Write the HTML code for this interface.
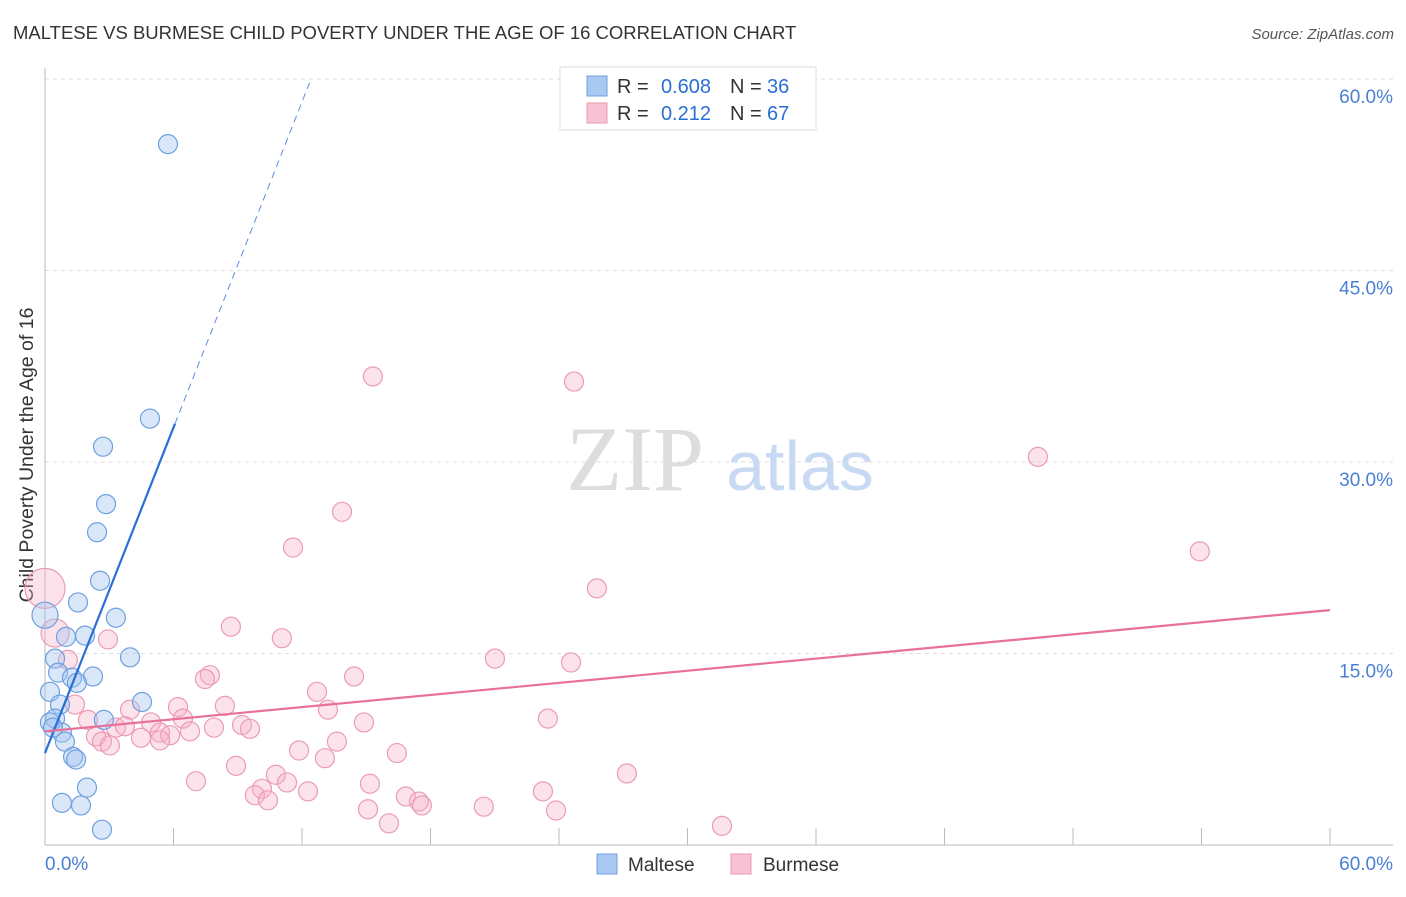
<!DOCTYPE html>
<html><head><meta charset="utf-8"><style>
body{margin:0;background:#fff;}
svg{font-family:"Liberation Sans",sans-serif;}
</style></head><body>
<svg id="chart" width="1406" height="892" xmlns="http://www.w3.org/2000/svg">
<text x="13" y="39" font-size="18.5" fill="#333">MALTESE VS BURMESE CHILD POVERTY UNDER THE AGE OF 16 CORRELATION CHART</text>
<text x="1394" y="39" font-size="15" fill="#555" font-style="italic" text-anchor="end">Source: ZipAtlas.com</text>
<g><text x="635" y="490" font-size="92" font-family="Liberation Serif,serif" fill="#ddd" text-anchor="middle">ZIP</text><text x="800" y="490" font-size="70" fill="#c8daf3" text-anchor="middle">atlas</text></g>
<text transform="translate(33,455) rotate(-90)" font-size="19.5" fill="#333" text-anchor="middle">Child Poverty Under the Age of 16</text>
<g id="grid"></g><g id="points"></g><g id="lines"></g>
<g>
<rect x="560" y="67" width="256" height="63" fill="#fff" stroke="#ddd"/>
<rect x="587" y="76" width="20" height="20" fill="#a9c9f2" stroke="#6fa0e0"/>
<rect x="587" y="103" width="20" height="20" fill="#f8c3d3" stroke="#e99ab3"/>
<text x="617" y="93" font-size="20" fill="#333">R = </text><text x="711" y="93" font-size="20" fill="#2a6fd6" text-anchor="end">0.608</text>
<text x="730" y="93" font-size="20" fill="#333">N = </text><text x="767" y="93" font-size="20" fill="#2a6fd6">36</text>
<text x="617" y="120" font-size="20" fill="#333">R = </text><text x="711" y="120" font-size="20" fill="#2a6fd6" text-anchor="end">0.212</text>
<text x="730" y="120" font-size="20" fill="#333">N = </text><text x="767" y="120" font-size="20" fill="#2a6fd6">67</text>
</g>
<g>
<rect x="597" y="854" width="20" height="20" fill="#a9c9f2" stroke="#6fa0e0"/>
<text x="628" y="871" font-size="19" fill="#333">Maltese</text>
<rect x="731" y="854" width="20" height="20" fill="#f8c3d3" stroke="#e99ab3"/>
<text x="763" y="871" font-size="19" fill="#333">Burmese</text>
</g>
</svg>
<script>
const xTicks=[0,6,12,18,24,30,36,42,48,54,60];
const yTicks=[15,30,45,60];
const malteseX=[5.74,4.90,2.71,2.85,2.43,2.57,1.54,3.31,0,1.87,0.98,3.97,0.47,0.61,1.26,2.24,1.49,0.23,4.53,0.70,0.47,2.75,0.23,0.79,0.93,1.31,1.45,1.96,0.79,1.68,2.66,0.37];
const malteseY=[54.9,33.4,31.2,26.7,24.5,20.7,19.0,17.8,18.0,16.4,16.3,14.7,14.6,13.5,13.1,13.2,12.7,12.0,11.2,11.0,9.9,9.8,9.6,8.8,8.1,6.9,6.7,4.5,3.3,3.1,1.2,9.2];
const burmeseX=[15.31,24.70,46.36,13.87,11.58,53.92,25.77,0,8.68,11.06,0.47,2.94,21.01,24.56,1.07,7.70,7.47,14.43,12.70,6.21,8.40,1.40,6.44,13.21,23.48,2.01,14.89,4.95,9.20,9.57,3.97,3.31,6.77,7.89,5.37,3.73,4.48,2.38,2.66,11.86,13.63,16.43,13.07,8.92,27.17,10.78,7.05,15.17,11.30,10.13,12.28,9.80,10.41,23.25,16.85,17.46,17.60,20.49,23.86,15.08,16.06,31.61,5.84,3.03,5.37];
const burmeseY=[36.7,36.3,30.4,26.1,23.3,23.0,20.1,20.1,17.1,16.2,16.6,16.1,14.6,14.3,14.5,13.3,13.0,13.2,12.0,10.8,10.9,11.0,9.9,10.6,9.9,9.8,9.6,9.6,9.4,9.1,10.6,9.2,8.9,9.2,8.8,9.3,8.4,8.5,8.1,7.4,8.1,7.2,6.8,6.2,5.6,5.5,5.0,4.8,4.9,4.4,4.2,3.9,3.5,4.2,3.8,3.4,3.1,3.0,2.7,2.8,1.7,1.5,8.6,7.8,8.2];
const malteseTrend=[7.2,33.0];const malteseTrendX=[0,6.07,12.35];
const burmeseTrend=[8.9,18.4];
const X0=45,X1=1330,Y0=845,Y60=79;
const sx=v=>X0+(X1-X0)*v/60, sy=v=>Y0-(Y0-Y60)*v/60;
const NS='http://www.w3.org/2000/svg';
function mk(t,a,p){const e=document.createElementNS(NS,t);for(const k in a)e.setAttribute(k,a[k]);p.appendChild(e);return e;}
const grid=document.getElementById('grid');
yTicks.forEach(t=>{
 const l=mk('line',{x1:X0,x2:1393,y1:sy(t),y2:sy(t),stroke:'#ddd','stroke-dasharray':'4,4'},grid);
 
 
 const tx=mk('text',{x:1393,y:sy(t)+24,'font-size':19,fill:'#4a7fd4','text-anchor':'end'},grid);tx.textContent=t.toFixed(1)+'%';
 
 
});
mk('line',{x1:X0,x2:X0,y1:68,y2:Y0,stroke:'#bbb'},grid);
mk('line',{x1:X0,x2:1393,y1:Y0,y2:Y0,stroke:'#bbb'},grid);
xTicks.forEach(t=>{const l=mk('line',{x1:sx(t),x2:sx(t),y1:828,y2:Y0,stroke:'#bbb'},grid);
 
 });
[[0,'start',45],[60,'end',1393]].forEach(([v,a,x])=>{const t=mk('text',{x:x,y:870,'font-size':19,fill:'#4a7fd4','text-anchor':a},grid);t.textContent=v.toFixed(1)+'%';
 
 });
const pts=document.getElementById('points');
burmeseX.forEach((x,i)=>{const r=(x===0&&burmeseY[i]>19)?20:(i===10?14:9.5);
 const c=mk('circle',{cx:sx(x),cy:sy(burmeseY[i]),r:r,fill:'rgba(246,176,198,0.35)',stroke:'#eb9bb5','stroke-width':1.2},pts);
 
 });
malteseX.forEach((x,i)=>{const r=(x===0)?13:9.5;
 const c=mk('circle',{cx:sx(x),cy:sy(malteseY[i]),r:r,fill:'rgba(160,196,240,0.4)',stroke:'#6fa0e0','stroke-width':1.2},pts);
 
 });
const ln=document.getElementById('lines');
const slope=(malteseTrend[1]-malteseTrend[0])/malteseTrendX[1];
let l=mk('line',{x1:sx(0),y1:sy(malteseTrend[0]),x2:sx(malteseTrendX[1]),y2:sy(malteseTrend[1]),stroke:'#2a6fd6','stroke-width':2.2},ln);


l=mk('line',{x1:sx(malteseTrendX[1]),y1:sy(malteseTrend[1]),x2:sx(malteseTrendX[2]),y2:sy(malteseTrend[0]+slope*malteseTrendX[2]),stroke:'#5a8fe0','stroke-width':1,'stroke-dasharray':'7,5'},ln);


l=mk('line',{x1:sx(0),y1:sy(burmeseTrend[0]),x2:sx(60),y2:sy(burmeseTrend[1]),stroke:'#e8709a','stroke-width':2.2},ln);


</script>
</body></html>
